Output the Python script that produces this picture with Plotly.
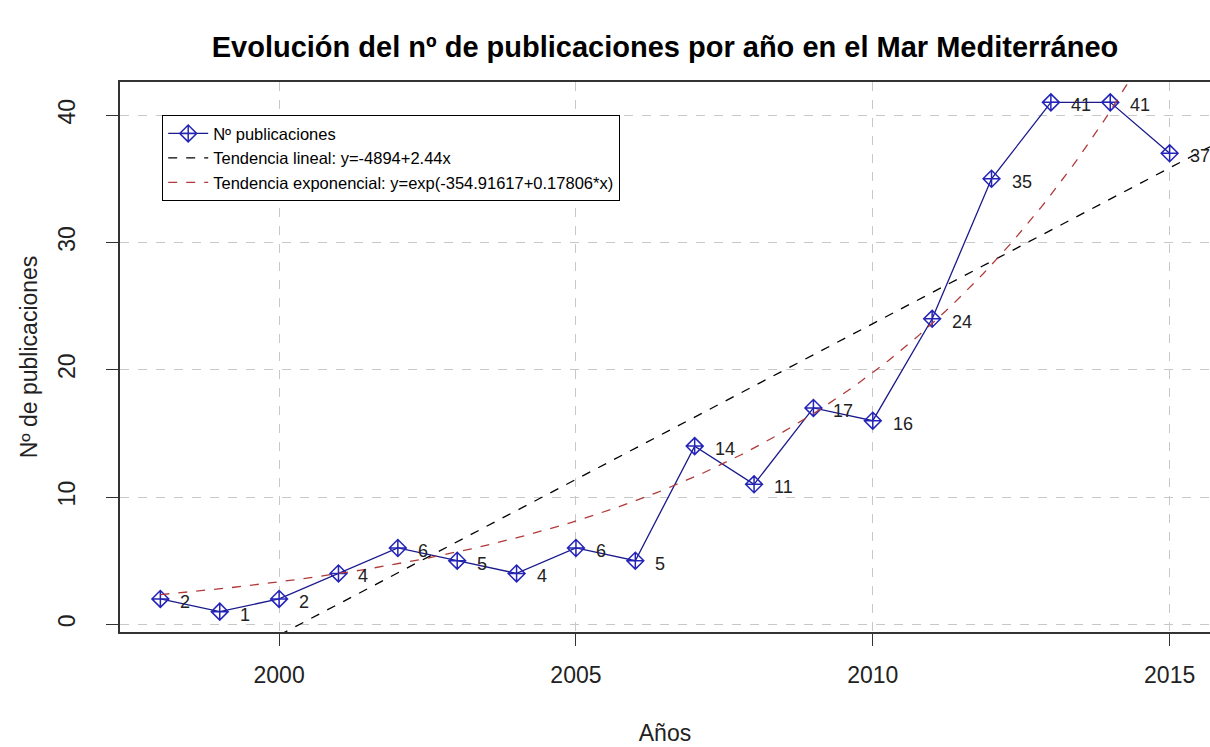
import numpy as np
import plotly.graph_objects as go

years = [1998, 1999, 2000, 2001, 2002, 2003, 2004, 2005, 2006, 2007, 2008,
         2009, 2010, 2011, 2012, 2013, 2014, 2015]
pubs = [2, 1, 2, 4, 6, 5, 4, 6, 5, 14, 11, 17, 16, 24, 35, 41, 41, 37]
x_ticks = [2000, 2005, 2010, 2015]
y_ticks = [0, 10, 20, 30, 40]
exp_a, exp_b = -354.91617, 0.17806

x_range = [1997.32, 2015.68]
y_range = [-0.6, 42.6]

# linear fit from data
slope, intercept = np.polyfit(years, pubs, 1)
lx = np.array(x_range)
ly = intercept + slope * lx

ex = np.linspace(1998, 2015.68, 200)
ey = np.exp(exp_a + exp_b * ex)

fig = go.Figure()
fig.add_trace(go.Scatter(
    x=years, y=pubs, mode="lines+markers", name="Nº publicaciones",
    line=dict(color="#1a1a8c", width=1.3),
    marker=dict(symbol="diamond-cross-open", size=13, color="#2424b8",
                line=dict(width=1.5, color="#2424b8")),
))
fig.add_trace(go.Scatter(
    x=lx, y=ly, mode="lines", name="Tendencia lineal: y=-4894+2.44x",
    line=dict(color="black", width=1.3, dash="dash"),
))
fig.add_trace(go.Scatter(
    x=ex, y=ey, mode="lines",
    name="Tendencia exponencial: y=exp(-354.91617+0.17806*x)",
    line=dict(color="#b03a3a", width=1.3, dash="dash"),
))

for xv, yv in zip(years, pubs):
    fig.add_annotation(x=xv, y=yv, text=str(yv), showarrow=False,
                       xanchor="left", yanchor="middle", xshift=18, yshift=-3,
                       font=dict(size=18, color="#222"))

axis_common = dict(
    showline=True, linecolor="#333", linewidth=1.5, mirror=True,
    ticks="outside", ticklen=12, tickcolor="#333", tickwidth=1.3,
    showgrid=True, gridcolor="#c8c8c8", griddash="dash", gridwidth=1,
    zeroline=False, tickfont=dict(size=23, color="#222"),
)

fig.update_layout(
    width=1210, height=747,
    margin=dict(l=120, r=0, t=82, b=115),
    paper_bgcolor="white", plot_bgcolor="white",
    font=dict(family="Liberation Sans, Arial, sans-serif", color="#222"),
    title=dict(text="<b>Evolución del nº de publicaciones por año en el Mar Mediterráneo</b>",
               x=665/1210, xanchor="center", y=1-47/747, yanchor="middle",
               font=dict(size=29, color="black")),
    xaxis=dict(range=x_range, tickvals=x_ticks, ticklabelstandoff=10,
               title=dict(text="Años", font=dict(size=23), standoff=38),
               automargin=False, **axis_common),
    yaxis=dict(range=y_range, tickvals=y_ticks, tickangle=-90, ticklabelstandoff=22,
               title=dict(text="Nº de publicaciones", font=dict(size=23), standoff=10),
               automargin=False, **axis_common),
    showlegend=True,
    legend=dict(x=(162-120)/1090, y=(632-115)/550, xanchor="left", yanchor="top",
                bgcolor="white", bordercolor="black", borderwidth=1.2,
                font=dict(size=16.5, color="black"), tracegroupgap=0,
                itemwidth=40),
)

fig.write_html("out.html", config={"displayModeBar": False},
               post_script="document.body.style.margin='0';document.body.style.overflow='hidden';")
